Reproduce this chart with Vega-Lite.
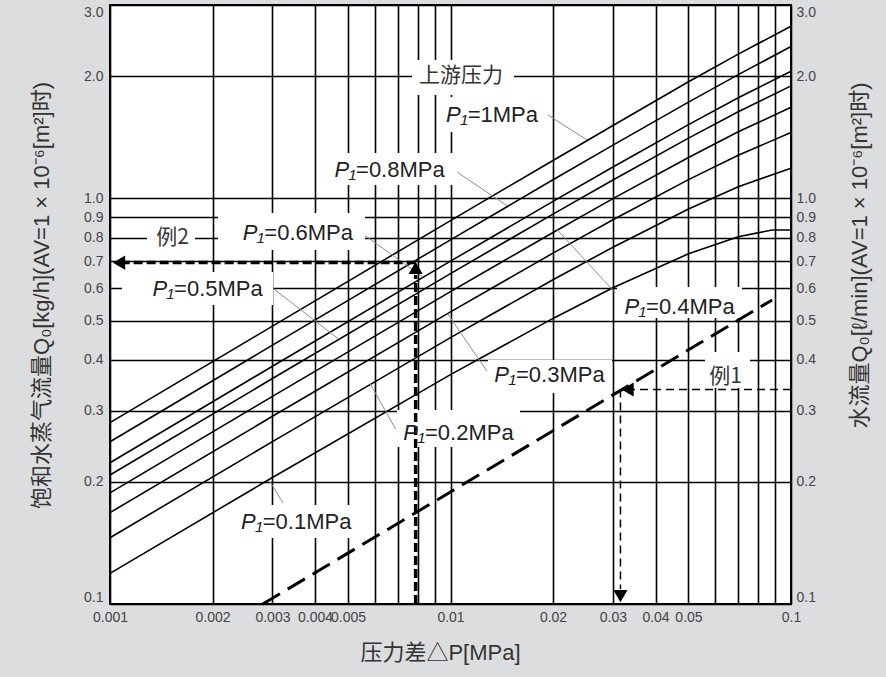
{
  "$schema": "https://vega.github.io/schema/vega-lite/v6.json",
  "width": 681,
  "height": 599,
  "autosize": {"type": "none"},
  "padding": {"left": 110, "top": 5, "right": 95, "bottom": 73},
  "background": "#dcdddf",
  "config": {
    "view": {"fill": "white", "stroke": "black", "strokeWidth": 2},
    "font": "Liberation Sans, Noto Sans CJK SC, sans-serif"
  },
  "datasets": {
    "curves": [
      {"p": "1.0", "dp": 0.001, "q": 0.280}, {"p": "1.0", "dp": 0.003, "q": 0.4845}, {"p": "1.0", "dp": 0.01, "q": 0.882}, {"p": "1.0", "dp": 0.02, "q": 1.241}, {"p": "1.0", "dp": 0.03, "q": 1.513}, {"p": "1.0", "dp": 0.05, "q": 1.94}, {"p": "1.0", "dp": 0.07, "q": 2.27}, {"p": "1.0", "dp": 0.1, "q": 2.66},
      {"p": "0.8", "dp": 0.001, "q": 0.2513}, {"p": "0.8", "dp": 0.003, "q": 0.4348}, {"p": "0.8", "dp": 0.01, "q": 0.7907}, {"p": "0.8", "dp": 0.02, "q": 1.112}, {"p": "0.8", "dp": 0.03, "q": 1.354}, {"p": "0.8", "dp": 0.05, "q": 1.728}, {"p": "0.8", "dp": 0.07, "q": 2.02}, {"p": "0.8", "dp": 0.1, "q": 2.37},
      {"p": "0.6", "dp": 0.001, "q": 0.223}, {"p": "0.6", "dp": 0.003, "q": 0.3857}, {"p": "0.6", "dp": 0.01, "q": 0.7006}, {"p": "0.6", "dp": 0.02, "q": 0.9836}, {"p": "0.6", "dp": 0.03, "q": 1.196}, {"p": "0.6", "dp": 0.05, "q": 1.521}, {"p": "0.6", "dp": 0.07, "q": 1.771}, {"p": "0.6", "dp": 0.1, "q": 2.06},
      {"p": "0.5", "dp": 0.001, "q": 0.208}, {"p": "0.5", "dp": 0.003, "q": 0.3597}, {"p": "0.5", "dp": 0.01, "q": 0.6528}, {"p": "0.5", "dp": 0.02, "q": 0.9153}, {"p": "0.5", "dp": 0.03, "q": 1.111}, {"p": "0.5", "dp": 0.05, "q": 1.409}, {"p": "0.5", "dp": 0.07, "q": 1.637}, {"p": "0.5", "dp": 0.1, "q": 1.895},
      {"p": "0.4", "dp": 0.001, "q": 0.188}, {"p": "0.4", "dp": 0.003, "q": 0.325}, {"p": "0.4", "dp": 0.01, "q": 0.5891}, {"p": "0.4", "dp": 0.02, "q": 0.8246}, {"p": "0.4", "dp": 0.03, "q": 0.9993}, {"p": "0.4", "dp": 0.05, "q": 1.262}, {"p": "0.4", "dp": 0.07, "q": 1.46}, {"p": "0.4", "dp": 0.1, "q": 1.678},
      {"p": "0.3", "dp": 0.001, "q": 0.168}, {"p": "0.3", "dp": 0.003, "q": 0.2903}, {"p": "0.3", "dp": 0.01, "q": 0.5252}, {"p": "0.3", "dp": 0.02, "q": 0.7332}, {"p": "0.3", "dp": 0.03, "q": 0.8861}, {"p": "0.3", "dp": 0.05, "q": 1.113}, {"p": "0.3", "dp": 0.07, "q": 1.278}, {"p": "0.3", "dp": 0.1, "q": 1.455},
      {"p": "0.2", "dp": 0.001, "q": 0.1457}, {"p": "0.2", "dp": 0.003, "q": 0.2515}, {"p": "0.2", "dp": 0.01, "q": 0.4538}, {"p": "0.2", "dp": 0.02, "q": 0.6306}, {"p": "0.2", "dp": 0.03, "q": 0.7583}, {"p": "0.2", "dp": 0.05, "q": 0.9421}, {"p": "0.2", "dp": 0.07, "q": 1.069}, {"p": "0.2", "dp": 0.1, "q": 1.188},
      {"p": "0.1", "dp": 0.001, "q": 0.119}, {"p": "0.1", "dp": 0.003, "q": 0.2051}, {"p": "0.1", "dp": 0.01, "q": 0.3677}, {"p": "0.1", "dp": 0.02, "q": 0.5061}, {"p": "0.1", "dp": 0.03, "q": 0.6024}, {"p": "0.1", "dp": 0.05, "q": 0.7306}, {"p": "0.1", "dp": 0.07, "q": 0.8047}, {"p": "0.1", "dp": 0.088, "q": 0.836}, {"p": "0.1", "dp": 0.1, "q": 0.836}
    ],
    "boxes": [
      {"x1": 0.00771, "x2": 0.01537, "y1": 1.80, "y2": 2.196},
      {"x1": 0.00931, "x2": 0.01933, "y1": 1.459, "y2": 1.779},
      {"x1": 0.004427, "x2": 0.01031, "y1": 1.08, "y2": 1.295},
      {"x1": 0.002076, "x2": 0.005611, "y1": 0.7464, "y2": 0.921},
      {"x1": 0.001284, "x2": 0.001777, "y1": 0.7548, "y2": 0.8506},
      {"x1": 0.001084, "x2": 0.003011, "y1": 0.5463, "y2": 0.6588},
      {"x1": 0.03083, "x2": 0.07179, "y1": 0.5074, "y2": 0.6047},
      {"x1": 0.01289, "x2": 0.02981, "y1": 0.3314, "y2": 0.3995},
      {"x1": 0.0559, "x2": 0.0758, "y1": 0.3409, "y2": 0.4182},
      {"x1": 0.006966, "x2": 0.016, "y1": 0.2439, "y2": 0.3009},
      {"x1": 0.002329, "x2": 0.005243, "y1": 0.1455, "y2": 0.1754}
    ],
    "plabels": [
      {"name": "=1MPa", "x": 0.01123, "y": 1.606},
      {"name": "=0.8MPa", "x": 0.005279, "y": 1.176},
      {"name": "=0.6MPa", "x": 0.002839, "y": 0.822},
      {"name": "=0.5MPa", "x": 0.001542, "y": 0.5973},
      {"name": "=0.4MPa", "x": 0.03752, "y": 0.5411},
      {"name": "=0.3MPa", "x": 0.01557, "y": 0.367},
      {"name": "=0.2MPa", "x": 0.008415, "y": 0.2636},
      {"name": "=0.1MPa", "x": 0.002809, "y": 0.1596}
    ],
    "tags": [
      {"name": "上游压力", "x": 0.01074, "y": 2.0},
      {"name": "例2", "x": 0.001526, "y": 0.8},
      {"name": "例1", "x": 0.06429, "y": 0.3634}
    ],
    "leaders": [
      {"x1": 0.01933, "y1": 1.606, "x2": 0.02518, "y2": 1.394},
      {"x1": 0.01045, "y1": 1.162, "x2": 0.01466, "y2": 0.96},
      {"x1": 0.005611, "y1": 0.81, "x2": 0.0083, "y2": 0.64},
      {"x1": 0.003011, "y1": 0.6, "x2": 0.0047, "y2": 0.45},
      {"x1": 0.0305, "y1": 0.585, "x2": 0.0205, "y2": 0.84},
      {"x1": 0.0128, "y1": 0.375, "x2": 0.0098, "y2": 0.52},
      {"x1": 0.0069, "y1": 0.27, "x2": 0.0058, "y2": 0.35},
      {"x1": 0.003222, "y1": 0.1774, "x2": 0.002951, "y2": 0.2002}
    ],
    "guides": [
      {"kind": "water", "x1": 0.00281, "y1": 0.1, "x2": 0.088, "y2": 0.562},
      {"kind": "ex1", "x1": 0.1, "y1": 0.338, "x2": 0.0322, "y2": 0.338},
      {"kind": "ex1", "x1": 0.03156, "y1": 0.338, "x2": 0.03156, "y2": 0.1089},
      {"kind": "ex2", "x1": 0.0079, "y1": 0.1, "x2": 0.0079, "y2": 0.6475},
      {"kind": "ex2", "x1": 0.0079, "y1": 0.695, "x2": 0.001107, "y2": 0.695}
    ],
    "arrows": [
      {"dir": "left", "x": 0.03311, "y": 0.338},
      {"dir": "down", "x": 0.03156, "y": 0.1046},
      {"dir": "left", "x": 0.001063, "y": 0.6947},
      {"dir": "up", "x": 0.0079, "y": 0.674}
    ]
  },
  "layer": [
    {
      "data": {"name": "boxes"},
      "mark": {"type": "rect", "fill": "white"},
      "encoding": {
        "x": {
          "field": "x1", "type": "quantitative",
          "scale": {"type": "log", "domain": [0.001, 0.1], "nice": false},
          "axis": {
            "orient": "bottom",
            "values": [0.001, 0.002, 0.003, 0.004, 0.005, 0.006, 0.007, 0.008, 0.009, 0.01, 0.02, 0.03, 0.04, 0.05, 0.06, 0.07, 0.08, 0.09, 0.1],
            "format": "~g",
            "labelExpr": "(datum.value > 0.0055 && datum.value < 0.0095) || (datum.value > 0.055 && datum.value < 0.095) ? '' : datum.label",
            "grid": true, "gridColor": "black", "gridWidth": 1.6, "gridOpacity": 1,
            "domain": false, "ticks": false, "labelFlush": false, "labelOverlap": false,
            "labelPadding": 6, "labelFontSize": 14, "labelColor": "#444", "labelFont": "Liberation Sans",
            "title": "压力差△P[MPa]",
            "titleFont": "Liberation Sans, Noto Sans CJK SC", "titleFontSize": 22, "titleFontWeight": "normal", "titleColor": "#333",
            "titlePadding": 18, "titleX": 330
          }
        },
        "x2": {"field": "x2"},
        "y": {
          "field": "y1", "type": "quantitative",
          "scale": {"type": "log", "domain": [0.1, 3], "nice": false},
          "axis": {
            "orient": "right", "values": [0.1, 0.2, 0.3, 0.4, 0.5, 0.6, 0.7, 0.8, 0.9, 1, 2, 3],
            "format": ".1f", "grid": false, "domain": false, "ticks": false, "labelFlush": true, "labelOverlap": false,
            "labelPadding": 5, "labelFontSize": 14, "labelColor": "#444", "labelFont": "Liberation Sans",
            "title": "水流量Q₀[ℓ/min](AV=1 × 10⁻⁶[m²]时)",
            "titleFont": "Liberation Sans, Noto Sans CJK SC", "titleFontSize": 22, "titleFontWeight": "normal", "titleColor": "#333",
            "titleAngle": 270, "titleBaseline": "top", "titlePadding": 34, "titleY": 250
          }
        },
        "y2": {"field": "y2"}
      }
    },
    {
      "data": {"name": "curves"},
      "mark": {"type": "line", "color": "black", "strokeWidth": 1.6},
      "encoding": {
        "x": {"field": "dp", "type": "quantitative", "scale": {"type": "log", "domain": [0.001, 0.1], "nice": false}, "axis": null},
        "y": {
          "field": "q", "type": "quantitative",
          "scale": {"type": "log", "domain": [0.1, 3], "nice": false},
          "axis": {
            "orient": "left", "values": [0.1, 0.2, 0.3, 0.4, 0.5, 0.6, 0.7, 0.8, 0.9, 1, 2, 3],
            "format": ".1f", "grid": true, "gridColor": "black", "gridWidth": 1.6, "gridOpacity": 1,
            "domain": false, "ticks": false, "labelFlush": true, "labelOverlap": false,
            "labelPadding": 7, "labelFontSize": 14, "labelColor": "#444", "labelFont": "Liberation Sans",
            "title": "饱和水蒸气流量Q₀[kg/h](AV=1 × 10⁻⁶[m²]时)",
            "titleFont": "Liberation Sans, Noto Sans CJK SC", "titleFontSize": 22, "titleFontWeight": "normal", "titleColor": "#333",
            "titlePadding": 30, "titleY": 290
          }
        },
        "detail": {"field": "p", "type": "nominal"}
      }
    },
    {
      "data": {"name": "leaders"},
      "mark": {"type": "rule", "color": "#8c8c8c", "strokeWidth": 1},
      "encoding": {
        "x": {"field": "x1", "type": "quantitative", "scale": {"type": "log", "domain": [0.001, 0.1], "nice": false}, "axis": null},
        "y": {"field": "y1", "type": "quantitative", "scale": {"type": "log", "domain": [0.1, 3], "nice": false}, "axis": null},
        "x2": {"field": "x2"},
        "y2": {"field": "y2"}
      }
    },
    {
      "data": {"name": "guides"},
      "transform": [{"filter": "datum.kind == 'water'"}],
      "mark": {"type": "rule", "color": "black", "strokeWidth": 3, "strokeDash": [20, 9]},
      "encoding": {
        "x": {"field": "x1", "type": "quantitative", "scale": {"type": "log", "domain": [0.001, 0.1], "nice": false}, "axis": null},
        "y": {"field": "y1", "type": "quantitative", "scale": {"type": "log", "domain": [0.1, 3], "nice": false}, "axis": null},
        "x2": {"field": "x2"},
        "y2": {"field": "y2"}
      }
    },
    {
      "data": {"name": "guides"},
      "transform": [{"filter": "datum.kind == 'ex1'"}],
      "mark": {"type": "rule", "color": "black", "strokeWidth": 1.5, "strokeDash": [8, 5]},
      "encoding": {
        "x": {"field": "x1", "type": "quantitative", "scale": {"type": "log", "domain": [0.001, 0.1], "nice": false}, "axis": null},
        "y": {"field": "y1", "type": "quantitative", "scale": {"type": "log", "domain": [0.1, 3], "nice": false}, "axis": null},
        "x2": {"field": "x2"},
        "y2": {"field": "y2"}
      }
    },
    {
      "data": {"name": "guides"},
      "transform": [{"filter": "datum.kind == 'ex2'"}],
      "mark": {"type": "rule", "color": "black", "strokeWidth": 3.5, "strokeDash": [9, 4]},
      "encoding": {
        "x": {"field": "x1", "type": "quantitative", "scale": {"type": "log", "domain": [0.001, 0.1], "nice": false}, "axis": null},
        "y": {"field": "y1", "type": "quantitative", "scale": {"type": "log", "domain": [0.1, 3], "nice": false}, "axis": null},
        "x2": {"field": "x2"},
        "y2": {"field": "y2"}
      }
    },
    {
      "data": {"name": "arrows"},
      "mark": {"type": "point", "filled": true, "color": "black", "size": 200, "opacity": 1, "strokeWidth": 0},
      "encoding": {
        "x": {"field": "x", "type": "quantitative", "scale": {"type": "log", "domain": [0.001, 0.1], "nice": false}, "axis": null},
        "y": {"field": "y", "type": "quantitative", "scale": {"type": "log", "domain": [0.1, 3], "nice": false}, "axis": null},
        "shape": {"field": "dir", "type": "nominal", "scale": {"domain": ["left", "down", "up"], "range": ["triangle-left", "triangle-down", "triangle-up"]}, "legend": null}
      }
    },
    {
      "data": {"name": "plabels"},
      "mark": {"type": "text", "text": "P₁", "align": "right", "baseline": "middle", "fontSize": 22, "fontStyle": "italic", "font": "Liberation Sans", "color": "#222"},
      "encoding": {
        "x": {"field": "x", "type": "quantitative", "scale": {"type": "log", "domain": [0.001, 0.1], "nice": false}, "axis": null},
        "y": {"field": "y", "type": "quantitative", "scale": {"type": "log", "domain": [0.1, 3], "nice": false}, "axis": null}
      }
    },
    {
      "data": {"name": "plabels"},
      "mark": {"type": "text", "align": "left", "baseline": "middle", "fontSize": 22, "font": "Liberation Sans", "color": "#222"},
      "encoding": {
        "x": {"field": "x", "type": "quantitative", "scale": {"type": "log", "domain": [0.001, 0.1], "nice": false}, "axis": null},
        "y": {"field": "y", "type": "quantitative", "scale": {"type": "log", "domain": [0.1, 3], "nice": false}, "axis": null},
        "text": {"field": "name", "type": "nominal"}
      }
    },
    {
      "data": {"name": "tags"},
      "mark": {"type": "text", "align": "center", "baseline": "middle", "fontSize": 21, "font": "Noto Sans CJK SC", "color": "#333"},
      "encoding": {
        "x": {"field": "x", "type": "quantitative", "scale": {"type": "log", "domain": [0.001, 0.1], "nice": false}, "axis": null},
        "y": {"field": "y", "type": "quantitative", "scale": {"type": "log", "domain": [0.1, 3], "nice": false}, "axis": null},
        "text": {"field": "name", "type": "nominal"}
      }
    }
  ],
  "resolve": {"axis": {"x": "independent", "y": "independent"}}
}
